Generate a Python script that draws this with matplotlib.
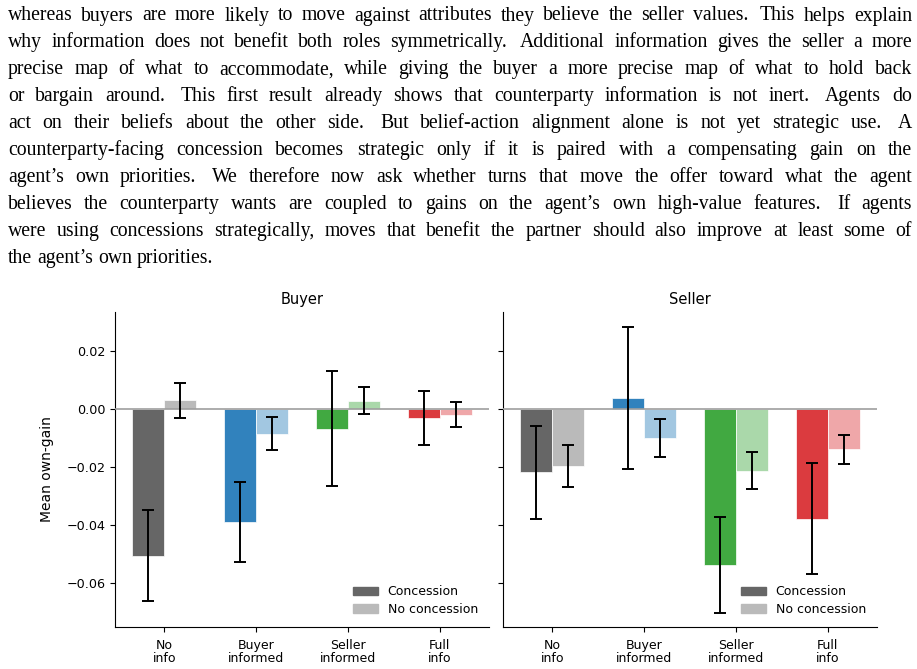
import matplotlib
matplotlib.use("Agg")
import matplotlib.pyplot as plt
import numpy as np
from matplotlib.colors import to_rgb
from matplotlib.patches import Patch

paragraph_lines = [
    "whereas buyers are more likely to move against attributes they believe the seller values. This helps explain",
    "why information does not benefit both roles symmetrically. Additional information gives the seller a more",
    "precise map of what to accommodate, while giving the buyer a more precise map of what to hold back",
    "or bargain around. This first result already shows that counterparty information is not inert. Agents do",
    "act on their beliefs about the other side. But belief-action alignment alone is not yet strategic use. A",
    "counterparty-facing concession becomes strategic only if it is paired with a compensating gain on the",
    "agent\u2019s own priorities. We therefore now ask whether turns that move the offer toward what the agent",
    "believes the counterparty wants are coupled to gains on the agent\u2019s own high-value features. If agents",
    "were using concessions strategically, moves that benefit the partner should also improve at least some of",
    "the agent\u2019s own priorities.",
]

conditions = ["No\ninfo", "Buyer\ninformed", "Seller\ninformed", "Full\ninfo"]
condition_colors = ["#666666", "#3182bd", "#41a941", "#db3b3f"]

buyer_concession = [-0.0504, -0.0388, -0.0066, -0.0031]
buyer_concession_err = [0.0157, 0.0139, 0.0197, 0.0093]
buyer_no_concession = [0.0032, -0.0083, 0.0030, -0.0018]
buyer_no_concession_err = [0.0060, 0.0056, 0.0047, 0.0044]

seller_concession = [-0.0217, 0.0040, -0.0537, -0.0377]
seller_concession_err = [0.0160, 0.0245, 0.0165, 0.0191]
seller_no_concession = [-0.0195, -0.0098, -0.0211, -0.0137]
seller_no_concession_err = [0.0072, 0.0065, 0.0064, 0.0050]

W, H = 917, 669
fig = plt.figure(figsize=(W / 100, H / 100), dpi=100)
renderer = fig.canvas.get_renderer()

# justified paragraph, word by word
text_size = 14.2
left_px, right_px = 8, 912
space_px = 0.25 * text_size * 100 / 72
for i, line in enumerate(paragraph_lines):
    y = 1 - (20.5 + i * 26.9) / H
    words = line.split()
    texts = [
        fig.text(0, y, w, family="Liberation Serif", fontsize=text_size,
                 ha="left", va="baseline")
        for w in words
    ]
    widths = [t.get_window_extent(renderer).width for t in texts]
    weights = [1.4 if w.endswith(".") else 1.0 for w in words[:-1]]
    if i < len(paragraph_lines) - 1:
        unit = (right_px - left_px - sum(widths)) / sum(weights)
    else:
        unit = space_px
    x = left_px
    for t, wd, k in zip(texts, widths, weights + [0]):
        t.set_x(x / W)
        x += wd + unit * k

ax_b = fig.add_axes([115 / W, 1 - 627 / H, 374 / W, 315 / H])
ax_s = fig.add_axes([503 / W, 1 - 627 / H, 374 / W, 315 / H], sharey=ax_b)

x = np.arange(len(conditions))
bw = 0.35
light = [tuple(1 - 0.45 * (1 - np.array(to_rgb(c)))) for c in condition_colors]

for ax, title, conc, conc_err, noconc, noconc_err in [
    (ax_b, "Buyer", buyer_concession, buyer_concession_err,
     buyer_no_concession, buyer_no_concession_err),
    (ax_s, "Seller", seller_concession, seller_concession_err,
     seller_no_concession, seller_no_concession_err),
]:
    ax.bar(x - bw / 2, conc, bw, color=condition_colors,
           edgecolor="white", linewidth=0.5, zorder=2)
    ax.bar(x + bw / 2, noconc, bw, color=light,
           edgecolor="white", linewidth=0.5, zorder=2)
    ax.axhline(0, color="#9e9e9e", linewidth=1.2, zorder=3)
    ax.errorbar(x - bw / 2, conc, yerr=conc_err, fmt="none", ecolor="black",
                elinewidth=1.4, capsize=4, capthick=1.4, zorder=4)
    ax.errorbar(x + bw / 2, noconc, yerr=noconc_err, fmt="none", ecolor="black",
                elinewidth=1.4, capsize=4, capthick=1.4, zorder=4)
    ax.set_title(title, fontsize=10.5)
    ax.set_xticks(x)
    ax.set_xticklabels(conditions, fontsize=9, linespacing=1.0)
    ax.tick_params(axis="x", pad=5)
    ax.tick_params(axis="y", labelsize=9.2)
    ax.set_xlim(-0.536, 3.534)
    ax.spines["top"].set_visible(False)
    ax.spines["right"].set_visible(False)
    ax.legend(
        handles=[Patch(color=condition_colors[0], label="Concession"),
                 Patch(color=light[0], label="No concession")],
        loc="lower right", frameon=False, fontsize=9, labelspacing=0.35,
    )

ax_b.set_ylim(-0.075, 0.0336)
ax_b.set_yticks([-0.06, -0.04, -0.02, 0.0, 0.02])
ax_b.set_ylabel("Mean own-gain", fontsize=10, labelpad=9)
plt.setp(ax_s.get_yticklabels(), visible=False)

fig.savefig("out.png", dpi=100)
